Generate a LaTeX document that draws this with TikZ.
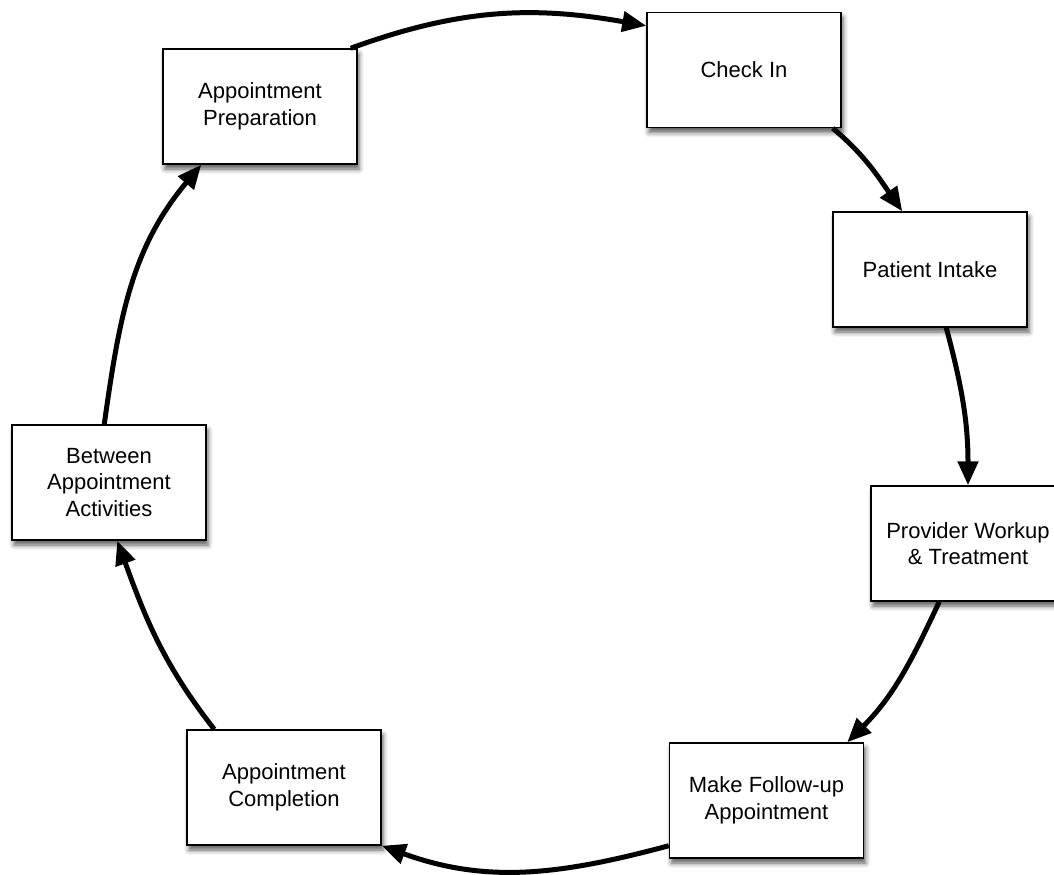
\documentclass[tikz,border=0pt]{standalone}
\usepackage{fontspec}
\setmainfont{Liberation Sans}
\usetikzlibrary{arrows.meta,shadows.blur}

\tikzset{
  stepbox/.style={
    draw=black, line width=0.75pt, fill=white,
    minimum width=97pt, minimum height=57.5pt,
    inner sep=2pt, align=center,
    font=\fontsize{11}{13.35}\selectfont,
    blur shadow={shadow xshift=1pt, shadow yshift=-2.5pt,
                 shadow blur radius=2.5pt, shadow opacity=65}
  },
  flow/.style={
    line width=2.5pt, draw=black,
    -{Triangle[length=12pt,width=10pt]}
  }
}

\begin{document}
\begin{tikzpicture}[x=0.5pt, y=0.5pt]
  % page frame
  \useasboundingbox (0,0) rectangle (1054,-874);

  % process steps around the cycle
  \node[stepbox] (prep) at (260,-106.5) {Appointment\\Preparation};
  \node[stepbox] (chk)  at (744,-70)    {Check In};
  \node[stepbox] (pi)   at (930,-269.5) {Patient Intake};
  \node[stepbox] (pw)   at (968,-543.5) {Provider Workup\\\& Treatment};
  \node[stepbox] (mf)   at (766.5,-800.5) {Make Follow-up\\Appointment};
  \node[stepbox] (ac)   at (284,-787.5) {Appointment\\Completion};
  \node[stepbox] (ba)   at (109,-482.5) {Between\\Appointment\\Activities};

  % curved connectors, clockwise
  \draw[flow] ([xshift=-3.5pt]prep.north east) to[out=20, in=170]
              ([yshift=-7pt]chk.north west);
  \draw[flow] ([xshift=-4.5pt]chk.south east) to[out=-40, in=125]
              ([xshift=35pt]pi.north west);
  \draw[flow] ([xshift=57pt]pi.south west) to[out=-75, in=90]
              (pw.north);
  \draw[flow] ([xshift=34.5pt]pw.south west) to[out=-115, in=45]
              ([xshift=-8.5pt]mf.north east);
  \draw[flow] ([yshift=6.5pt]mf.south west) to[out=195, in=-20]
              (ac.south east);
  \draw[flow] ([xshift=14pt]ac.north west) to[out=128, in=-70]
              ([xshift=53pt]ba.south west);
  \draw[flow] ([xshift=46.5pt]ba.north west) to[out=82, in=-130]
              ([xshift=19.5pt]prep.south west);
\end{tikzpicture}
\end{document}
